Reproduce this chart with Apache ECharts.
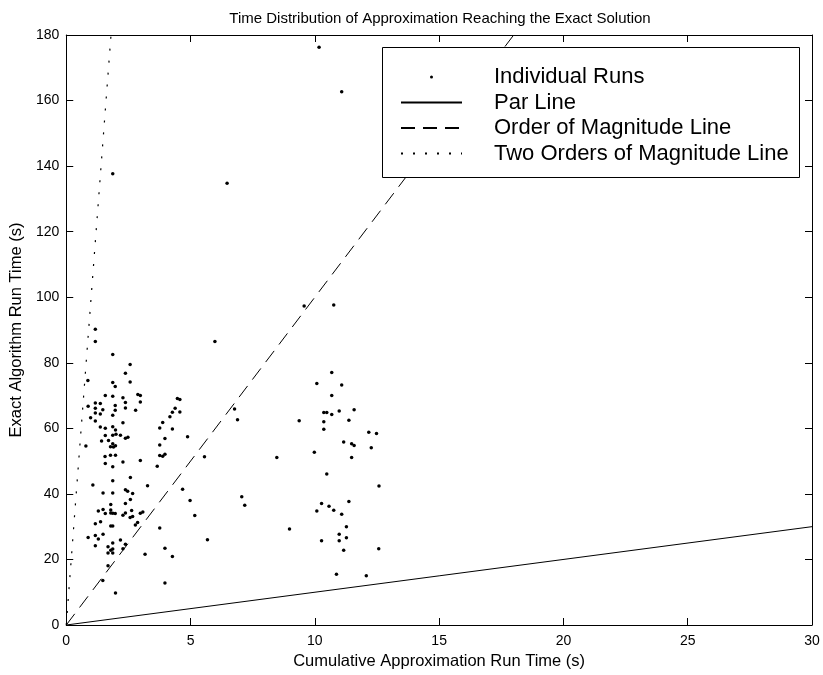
<!DOCTYPE html>
<html><head><meta charset="utf-8">
<script src="https://cdn.jsdelivr.net/npm/echarts@6/dist/echarts.min.js"></script>
<style>html,body{margin:0;padding:0;background:#fff}#c{width:823px;height:675px}</style>
</head><body><div id="c"></div>
<script>
const titleText = 'Time Distribution of Approximation Reaching the Exact Solution';
const xAxisName = 'Cumulative Approximation Run Time (s)';
const yAxisName = 'Exact Algorithm Run Time (s)';
const seriesNames = ['Individual Runs', 'Par Line', 'Order of Magnitude Line', 'Two Orders of Magnitude Line'];
const xRange = [0, 30], xStep = 5;
const yRange = [0, 180], yStep = 20;

// [cumulative approximation time, exact algorithm time]
const individualRuns = [
  [10.17,176.3],[11.08,162.7],[1.87,137.7],[6.47,134.8],[9.57,97.3],[10.76,97.6],[1.17,90.2],[1.17,86.5],[5.98,86.5],
  [1.87,82.5],[2.57,79.5],[2.38,76.8],[0.87,74.6],[1.87,74.0],[2.57,74.1],[1.97,72.8],[1.57,70.0],[1.87,69.8],[2.28,69.3],
  [2.88,70.3],[2.98,70.0],[2.98,68.0],[4.47,69.1],[4.57,68.8],[1.17,67.7],[1.37,67.6],[2.38,67.9],[0.88,66.7],[1.97,67.0],
  [1.17,66.1],[1.47,65.7],[2.38,66.2],[2.79,65.5],[1.97,65.5],[4.38,66.1],[4.27,64.9],[4.57,65.0],[1.17,64.7],[1.37,64.4],
  [1.87,64.0],[0.98,63.2],[4.17,63.5],[1.17,62.2],[2.28,61.7],[3.88,61.8],[1.37,60.4],[1.57,60.0],[1.87,60.5],[1.98,59.5],
  [3.76,60.1],[4.27,59.8],[1.57,57.8],[1.87,57.9],[2.0,58.2],[2.18,57.9],[2.38,57.0],[2.48,57.3],[4.88,57.4],[3.97,56.9],
  [1.42,56.1],[1.70,56.3],[1.87,55.3],[1.78,54.4],[1.90,54.3],[1.98,54.7],[0.79,54.6],[3.76,54.9],
  [1.56,51.4],[1.78,51.8],[1.98,51.8],[3.76,51.7],[3.88,51.5],[3.97,52.1],[5.56,51.3],[2.98,50.2],[1.57,49.3],[1.87,48.3],
  [2.28,49.7],[3.66,48.4],[2.58,45.0],[1.87,44.0],[1.07,42.7],[3.27,42.5],[1.48,40.3],[1.87,40.3],[2.38,41.3],[2.47,40.8],
  [2.67,40.1],[4.68,41.4],[2.58,38.3],[4.98,38.0],[1.79,36.8],[2.38,37.1],[1.48,35.2],[1.29,34.8],[1.79,35.1],[2.63,34.9],
  [1.57,34.0],[1.79,34.2],[1.87,34.1],[1.97,34.0],[2.28,33.5],[2.38,34.2],[2.57,32.8],[2.67,33.1],[2.98,34.1],[3.08,34.5],
  [5.17,33.4],[1.17,30.9],[1.38,31.5],[1.79,30.2],[1.87,30.2],[2.87,31.3],[2.78,30.5],[3.76,29.6],[0.88,26.7],[1.17,27.3],
  [1.29,26.2],[1.48,27.7],[1.87,25.0],[2.18,25.9],[2.38,24.6],[1.17,24.2],[1.68,23.9],[1.79,22.8],[1.87,23.2],[2.28,23.3],
  [3.97,23.4],[1.68,22.0],[1.87,22.0],[3.17,21.6],[4.27,20.9],[1.68,18.1],[1.47,13.6],[3.97,12.8],[1.98,9.8],[5.68,26.0],
  [10.08,73.7],[6.77,65.9],[6.89,62.6],[9.37,62.3],[8.47,51.1],[9.98,52.7],[7.06,39.1],[7.18,36.5],[10.08,34.8],[8.98,29.3],
  [10.68,77.0],[11.08,73.2],[10.68,70.0],[10.36,64.8],[10.48,64.8],[10.68,64.2],[10.98,65.3],[11.58,65.7],[10.36,62.0],
  [11.37,62.5],[10.36,59.7],[12.17,58.8],[12.48,58.4],[11.16,55.8],[11.48,55.3],[11.58,54.8],[12.27,54.1],[11.48,51.1],
  [10.48,46.1],[12.58,42.4],[10.27,37.1],[10.57,36.2],[11.37,37.7],[10.76,35.0],[11.08,33.8],[11.27,30.0],[10.27,25.7],
  [10.98,27.7],[10.98,25.7],[11.27,26.6],[11.16,22.8],[12.57,23.3],[10.87,15.5],[12.07,15.0]
];
const parLine = [[0, 0], [30, 30]];
const orderLine = [[0, 0], [18, 180]];
const twoOrderLine = [[0, 0], [1.8, 180]];

const FONT = "'Liberation Sans', Arial, Helvetica, sans-serif";
const chart = echarts.init(document.getElementById('c'), null, {renderer: 'canvas'});

function xAx(pos, labels) {
  return {
    type: 'value', min: xRange[0], max: xRange[1], interval: xStep, position: pos,
    axisLine: {show: true, onZero: false, lineStyle: {color: '#000', width: 1}},
    axisTick: {show: true, inside: true, length: 7, lineStyle: {color: '#000'}},
    axisLabel: {show: labels, color: '#000', fontSize: 14, margin: 9, fontFamily: FONT},
    splitLine: {show: false},
    name: labels ? xAxisName : '', nameLocation: 'middle', nameGap: 24,
    nameTextStyle: {color: '#000', fontSize: 16.5, fontFamily: FONT}
  };
}
function yAx(pos, labels) {
  return {
    type: 'value', min: yRange[0], max: yRange[1], interval: yStep, position: pos,
    axisLine: {show: true, onZero: false, lineStyle: {color: '#000', width: 1}},
    axisTick: {show: true, inside: true, length: 7, lineStyle: {color: '#000'}},
    axisLabel: {show: labels, color: '#000', fontSize: 14, margin: 7, fontFamily: FONT},
    splitLine: {show: false},
    name: labels ? yAxisName : '', nameLocation: 'middle', nameGap: 31,
    nameTextStyle: {color: '#000', fontSize: 16.5, fontFamily: FONT}
  };
}

const lineBase = {type: 'line', symbol: 'none', silent: true, animation: false, z: 2};
const hiddenDot = {color: 'rgba(0,0,0,0)', borderColor: 'rgba(0,0,0,0)', borderWidth: 0, opacity: 0};

chart.setOption({
  backgroundColor: '#fff',
  animation: false,
  title: {text: titleText, left: 435, textAlign: 'center', top: 6,
    textStyle: {color: '#000', fontSize: 15, fontWeight: 'normal', fontFamily: FONT}},
  grid: {left: 66, right: 11, top: 35, bottom: 50, containLabel: false},
  xAxis: [xAx('bottom', true), xAx('top', false)],
  yAxis: [yAx('left', true), yAx('right', false)],
  graphic: [{type: 'rect', z: 3, shape: {x: 382.5, y: 47.5, width: 417, height: 130},
    style: {fill: '#fff', stroke: '#000', lineWidth: 1}}],
  legend: {
    orient: 'vertical', left: 395, top: 61, itemWidth: 61, itemHeight: 14, itemGap: 3.5,
    selectedMode: false, z: 4,
    textStyle: {color: '#000', fontSize: 22, fontFamily: FONT, padding: [0, 0, 0, 27]},
    data: [
      {name: seriesNames[0], icon: 'path://M0,0M61,14M29,7a1.5,1.5,0,1,0,3,0a1.5,1.5,0,1,0,-3,0Z', itemStyle: {color: '#000', opacity: 1}},
      {name: seriesNames[1], itemStyle: hiddenDot},
      {name: seriesNames[2], itemStyle: hiddenDot},
      {name: seriesNames[3], itemStyle: hiddenDot}
    ]
  },
  series: [
    {name: seriesNames[0], type: 'scatter', data: individualRuns, symbol: 'circle', symbolSize: 3.5,
      itemStyle: {color: '#000', opacity: 1}, silent: true, animation: false, z: 2},
    Object.assign({}, lineBase, {name: seriesNames[1], data: parLine,
      lineStyle: {color: '#000', width: 1, type: 'solid'}}),
    Object.assign({}, lineBase, {name: seriesNames[2], data: orderLine,
      lineStyle: {color: '#000', width: 1, type: [14, 8]}}),
    Object.assign({}, lineBase, {name: seriesNames[3], data: twoOrderLine,
      lineStyle: {color: '#000', width: 1.2, type: [2, 10]}})
  ]
});
</script></body></html>
